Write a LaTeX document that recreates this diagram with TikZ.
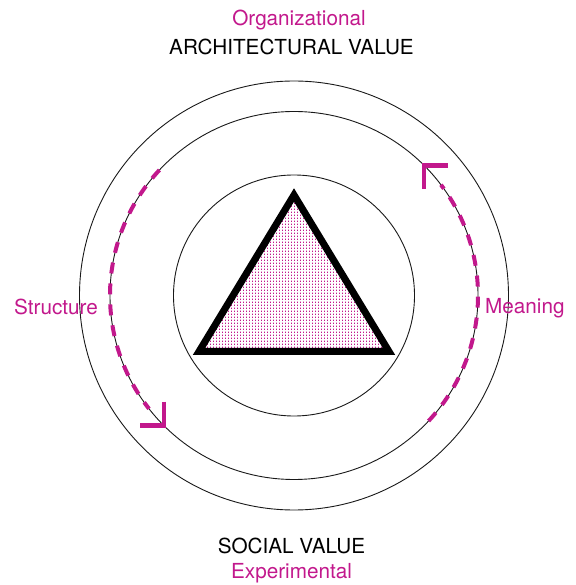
\documentclass[tikz,border=0pt]{standalone}
\usepackage{fontspec}
\setsansfont{TeX Gyre Heros}
\usepackage{tikz}
\usetikzlibrary{patterns, calc}
\definecolor{Mag}{RGB}{194,24,140}
\pgfdeclarepatternformonly{stipple}{\pgfpointorigin}{\pgfpoint{3pt}{3pt}}{\pgfpoint{3pt}{3pt}}{%
  \pgfpathrectangle{\pgfpointorigin}{\pgfpoint{1pt}{1.8pt}}\pgfusepath{fill}}

\begin{document}
\begin{tikzpicture}[x=1pt, y=1pt,
  ring/.style={draw=black!90, line width=0.9pt},
  flow/.style={draw=Mag, line width=4pt, dash pattern=on 11pt off 10pt},
  barb/.style={draw=Mag, line width=4.5pt, line join=miter},
  lbl/.style={font=\fontsize{20.7}{24}\selectfont\sffamily, inner sep=0pt, anchor=base},
  tag/.style={lbl, text=Mag}
]
  \useasboundingbox (-294,-289.5) rectangle (281,295.5);
  % Rings: outer, middle, inner
  \foreach \r in {214.5, 184, 120.5}
    \draw[ring] (0,0) circle (\r);
  % Triangle
  \draw[line width=7pt, line join=miter, pattern=stipple, pattern color=Mag]
    (0,100.5) -- (95,-56) -- (-95,-56) -- cycle;
  % Cycle on the middle ring
  \draw[flow] (137:184) arc (137:218:184);
  \draw[barb] ($(225:184)+(0,24)$) -- (225:184) -- ($(225:184)+(-24,0)$);
  \draw[flow] (-43:184) arc (-43:37:184);
  \draw[barb] ($(45:184)+(24,0)$) -- (45:184) -- ($(45:184)+(0,-24)$);
  % Labels
  \node[tag] (org) at (5,269.5) {Organizational};
  \node[lbl] (arch) at (-2.5,240.5) {ARCHITECTURAL VALUE};
  \node[lbl] (soc) at (-2.5,-257.5) {SOCIAL VALUE};
  \node[tag] (exp) at (-2.5,-282.5) {Experimental};
  \node[tag, anchor=base west] (str) at (-280,-19.5) {Structure};
  \node[tag, anchor=base west] (mean) at (191,-18.5) {Meaning};
\end{tikzpicture}
\end{document}
